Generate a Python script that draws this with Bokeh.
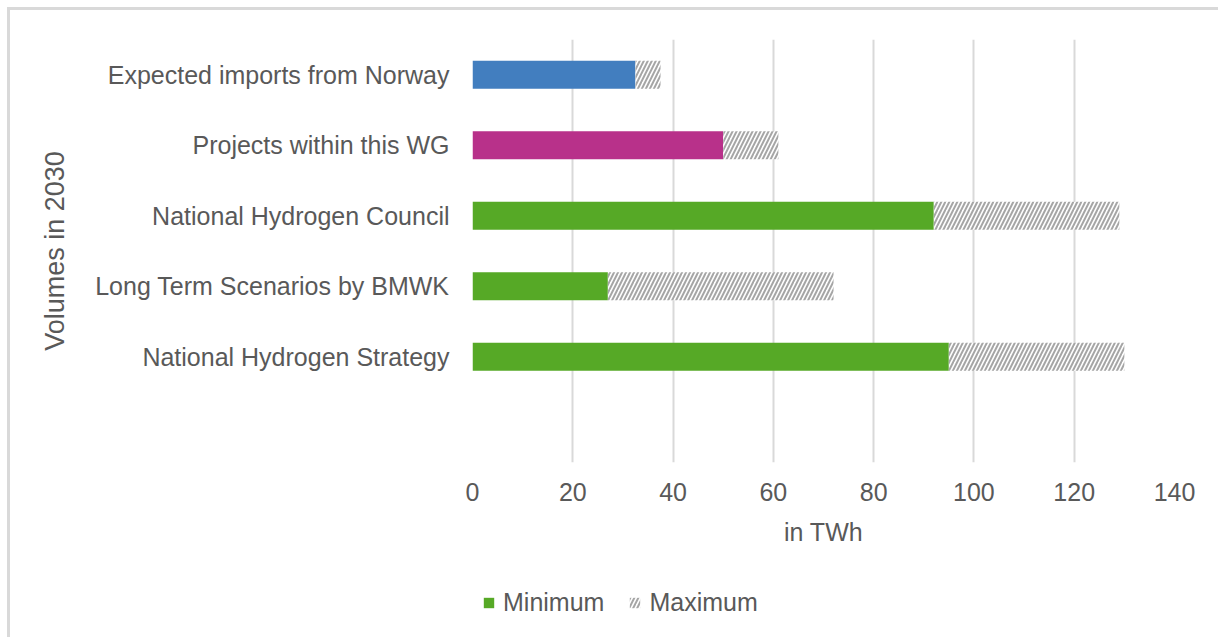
from bokeh.plotting import figure
from bokeh.layouts import column
from bokeh.models import Range1d, FixedTicker, Legend, LegendItem, ColumnDataSource
from bokeh.embed import file_html
from bokeh.resources import INLINE

# ---- data (bottom to top, as in the chart) ----
categories = [
    "National Hydrogen Strategy",
    "Long Term Scenarios by BMWK",
    "National Hydrogen Council",
    "Projects within this WG",
    "Expected imports from Norway",
]
minimum = [95, 27, 92, 50, 32.5]
maximum = [130, 72, 129, 61, 37.5]
bar_colors = ["#56A926", "#56A926", "#56A926", "#B8318A", "#427EBF"]
x_ticks = [0, 20, 40, 60, 80, 100, 120, 140]

FONT = "Liberation Sans"
TXT = "#595959"
GRID = "#d9d9d9"

n_slots = len(categories) + 1  # one empty slot at the bottom
y_pos = [i + 1.5 for i in range(len(categories))]

src = ColumnDataSource(dict(cat=categories, y=y_pos, lo=minimum, hi=maximum, color=bar_colors))

MIN_STYLE = dict(height=0.4, fill_color="color", line_color=None)
MAX_STYLE = dict(height=0.4, fill_color="white", line_color=None, hatch_pattern="/",
                 hatch_color="#a6a6a6", hatch_weight=2, hatch_scale=8)

p = figure(
    width=1208, height=575,
    x_range=Range1d(0, 140), y_range=Range1d(0, n_slots),
    output_backend="svg", toolbar_location=None,
    min_border_left=462, min_border_right=44, min_border_top=29, min_border_bottom=123,
)
p.outline_line_color = None
p.background_fill_color = "white"
p.border_fill_color = "white"

p.hbar(y="y", left=0, right="lo", source=src, **MIN_STYLE)
p.hbar(y="y", left="lo", right="hi", source=src, **MAX_STYLE)

# x axis
xa = p.xaxis[0]
xa.ticker = FixedTicker(ticks=x_ticks)
xa.axis_line_color = None
xa.major_tick_line_color = None
xa.minor_tick_line_color = None
xa.major_label_text_font = FONT
xa.major_label_text_font_size = "25px"
xa.major_label_text_color = TXT
xa.major_label_standoff = 14
xa.axis_label = "in TWh"
xa.axis_label_text_font = FONT
xa.axis_label_text_font_size = "25px"
xa.axis_label_text_font_style = "normal"
xa.axis_label_text_color = TXT
xa.axis_label_standoff = 14

# y axis
ya = p.yaxis[0]
ya.ticker = FixedTicker(ticks=y_pos)
ya.major_label_overrides = {yv: c for yv, c in zip(y_pos, categories)}
ya.axis_line_color = None
ya.major_tick_line_color = None
ya.minor_tick_line_color = None
ya.major_label_text_font = FONT
ya.major_label_text_font_size = "25px"
ya.major_label_text_color = TXT
ya.major_label_standoff = 17
ya.axis_label = "Volumes in 2030"
ya.axis_label_text_font = FONT
ya.axis_label_text_font_size = "27px"
ya.axis_label_text_font_style = "normal"
ya.axis_label_text_color = TXT
ya.axis_label_standoff = 22

p.xgrid.ticker = FixedTicker(ticks=x_ticks)
p.xgrid.grid_line_color = GRID
p.xgrid.grid_line_width = 2
p.ygrid.visible = False

# ---- legend strip below the chart ----
pl = figure(
    width=1208, height=52, output_backend="svg", toolbar_location=None,
    x_axis_location=None, y_axis_location=None,
    min_border_left=0, min_border_right=0, min_border_top=0, min_border_bottom=0,
)
pl.outline_line_color = None
pl.grid.visible = False
pl.background_fill_color = "white"
pl.border_fill_color = "white"
lg_min = pl.hbar(y="y", left=0, right="lo", source=src, visible=False, **MIN_STYLE)
lg_max = pl.hbar(y="y", left="lo", right="hi", source=src, visible=False, **MAX_STYLE)

legend = Legend(
    items=[
        LegendItem(label="Minimum", renderers=[lg_min], index=0),
        LegendItem(label="Maximum", renderers=[lg_max], index=0),
    ],
    orientation="horizontal", location=(10, 20),
    padding=0, margin=0, border_line_color=None, background_fill_alpha=0,
    inactive_fill_alpha=0,
    label_text_font=FONT, label_text_font_size="25px", label_text_color=TXT,
    glyph_width=13, glyph_height=13, label_standoff=8, spacing=24,
)
pl.add_layout(legend)

layout = column(p, pl, spacing=0)
layout.styles = {
    "margin-left": "7px", "margin-top": "7px",
    "border-left": "3px solid #d9d9d9", "border-top": "3px solid #d9d9d9",
}

open("out.html", "w").write(file_html(layout, INLINE))
